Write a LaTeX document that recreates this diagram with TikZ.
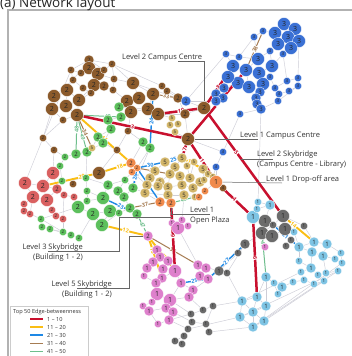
\documentclass[tikz,border=0pt]{standalone}
\usepackage{fontspec}
\setmainfont{Open Sans}
\pgfdeclarelayer{edges}
\pgfsetlayers{edges,main}
\definecolor{cbrown}{RGB}{139,90,43}
\definecolor{cblue}{RGB}{58,112,212}
\definecolor{cgreen}{RGB}{92,192,92}
\definecolor{cred}{RGB}{217,96,96}
\definecolor{corange}{RGB}{240,138,76}
\definecolor{cgold}{RGB}{211,182,106}
\definecolor{cpink}{RGB}{222,128,204}
\definecolor{cgray}{RGB}{107,107,107}
\definecolor{clblue}{RGB}{126,196,228}
\definecolor{ered}{RGB}{200,16,46}
\definecolor{eyel}{RGB}{250,190,20}
\definecolor{eblu}{RGB}{30,136,229}
\definecolor{ebrn}{RGB}{166,124,82}
\definecolor{egrn}{RGB}{110,190,140}
\definecolor{cgline}{RGB}{205,205,215}

\begin{document}
\begin{tikzpicture}[x=1pt, y=-1pt,
        nd/.style={circle, inner sep=0pt, draw=white, line width=0.3pt, text=black!85},
        nda/.style={nd, minimum size=13pt, font=\fontsize{7}{7}\selectfont},
        ndb/.style={nd, minimum size=10pt, font=\fontsize{6}{6}\selectfont},
        ndc/.style={nd, minimum size=7.5pt, font=\fontsize{4.5}{4.5}\selectfont},
        gline/.style={draw=cgline, line width=0.45pt},
        tred/.style={draw=ered, line width=2.5pt},
        tyel/.style={draw=eyel, line width=1.9pt},
        tblu/.style={draw=eblu, line width=1.4pt},
        tbrn/.style={draw=ebrn, line width=1pt},
        tgrn/.style={draw=egrn, line width=1pt},
        elab/.style={sloped, fill=white, inner sep=0.4pt, font=\fontsize{5.5}{5.5}\selectfont\bfseries},
        lred/.style={elab, text=ered},
        lyel/.style={elab, text=eyel},
        lblu/.style={elab, text=eblu},
        lbrn/.style={elab, text=ebrn},
        lgrn/.style={elab, text=egrn},
        lbl/.style={font=\fontsize{7.5}{10}\selectfont, text=black!80, inner sep=0pt},
        leader/.style={draw=black!60, line width=0.5pt},
    ]
    \useasboundingbox (0,0) rectangle (352,356);

    %Nodes
    \foreach \n/\x/\y/\s in {b1/54/96/a, b2/67/90/a, b3/79/100/a, b4/66/106/a, b5/52/109/a, b6/77/115/a,
        b7/89/60/b, b8/89/68/a, b9/98/74/a, b10/94/85/a, b11/104/86/b, b12/133/83/a, b13/127/101/a,
        b14/139/98/a, b15/131/112/a, b16/148/109/a, b17/153/94/a, b18/158/114/a, b19/99/173/a,
        b20/204/108/a, b21/188/139/a, b22/117/150/c, b23/178/98/b, b24/185/114/b, b25/71/70/c,
        b26/81/73/c, b27/104/70/c, b28/112/64/c, b29/73/80/c, b30/114/79/c, b31/83/88/c, b32/91/93/c,
        b33/113/90/c, b34/162/86/c, b35/167/91/c, b36/63/120/c, b37/43/138/c, b38/54/150/c,
        b39/128/131/c, b40/73/184/c}
        \node[nd\s, fill=cbrown] (\n) at (\x,\y) {2};
    \node[ndc, fill=cbrown] (b41) at (223,188) {3};

    \foreach \n/\x/\y/\s in {c1/284/24/a, c2/295/29/a, c3/275/33/a, c4/288/37/a, c5/299/41/a, c6/278/44/a,
        c7/291/48/a, c8/258/59/a, c9/233/66/a, c10/246/70/a, c11/259/73/a, c12/272/66/a, c13/238/83/a,
        c14/249/87/a, c15/263/84/a, c16/228/77/a, c17/254/37/c, c18/263/31/c, c19/270/51/c, c20/283/54/c,
        c21/226/54/c, c22/239/57/c, c23/270/77/c, c24/275/88/c, c25/287/81/c, c26/298/78/c, c27/298/86/c,
        c28/289/91/c, c29/279/94/c, c30/260/92/b, c31/256/98/b, c32/278/101/c, c33/257/104/b,
        c34/261/109/b, c35/224/88/b, c36/216/94/b, c37/223/98/b, c38/216/101/b, c40/240/114/c,
        c41/223/152/c, c42/216/167/c}
        \node[nd\s, fill=cblue] (\n) at (\x,\y) {3};
    \node[ndb, fill=cblue] (c39) at (186,101) {2};

    \foreach \n/\x/\y/\s in {g1/98/137/b, g2/103/143/b, g3/143/142/b, g4/150/148/b, g5/60/166/c,
        g6/76/154/b, g7/87/152/b, g8/65/157/c, g9/86/178/c, g10/62/181/c, g11/87/191/c, g12/103/198/a,
        g13/108/185/b, g14/118/191/b, g15/124/197/b, g17/133/188/b, g18/125/180/c, g19/78/207/a,
        g20/87/201/c, g21/93/214/a, g22/102/225/a, g23/110/211/a, g24/119/213/c, g25/130/208/b,
        g26/137/214/b, g27/41/219/c, g28/42/227/c, g29/50/229/c, g30/63/232/c, g31/71/235/c,
        g32/79/238/c, g33/119/107/b, g34/121/117/b, g35/108/120/b, g36/111/129/b}
        \node[nd\s, fill=cgreen] (\n) at (\x,\y) {2};

    \foreach \n/\x/\y/\s in {r1/25/183/a, r2/43/186/a, r3/53/173/a, r4/57/189/b, r5/64/195/c,
        r6/33/197/a, r7/47/200/a, r8/74/197/c, r9/24/204/c, r10/24/211/c, r11/30/214/c, r12/52/210/c,
        r13/56/216/c, r14/63/219/c}
        \node[nd\s, fill=cred] (\n) at (\x,\y) {2};

    \foreach \n/\x/\y/\s in {d1/172/118/c, d2/170/125/c, d3/178/124/c, d4/175/132/c, d5/165/162/b,
        d6/182/158/b, d7/175/167/b, d8/187/166/c, d9/194/162/c, d10/203/169/b, d11/208/174/c,
        d12/213/177/c, d13/155/171/b, d14/150/178/b, d15/160/182/b, d16/170/174/b, d17/180/176/b,
        d18/190/178/b, d19/200/182/b, d20/147/185/b, d21/158/186/b, d22/168/187/b, d23/182/185/b,
        d24/193/188/b, d25/145/193/b, d26/168/195/b, d27/184/195/b, d28/195/197/c, d29/204/180/c,
        d30/92/148/c}
        \node[nd\s, fill=cgold] (\n) at (\x,\y) {5};

    \foreach \n/\x/\y/\s in {o1/131/163/b, o2/137/168/c, o3/132/172/c, o4/160/202/b, o5/171/203/b,
        o7/205/191/c, o8/199/197/c}
        \node[nd\s, fill=corange] (\n) at (\x,\y) {2};
    \node[nda, fill=corange] (o6) at (216,182) {1};

    \foreach \n/\x/\y/\s in {p2/172/223/c, p3/178/228/a, p4/182/220/c, p5/188/226/c, p6/157/250/b,
        p7/160/257/b, p8/153/262/b, p9/168/261/b, p10/147/268/b, p11/163/269/b, p12/175/271/a,
        p13/162/278/b, p14/198/265/b, p15/206/268/b, p16/200/276/b, p17/208/279/b, p18/144/276/c,
        p19/156/283/b, p20/157/294/a, p21/170/300/a, p22/143/306/c, p23/152/302/c, p24/149/311/b,
        p25/166/308/b, p26/173/312/b, p27/169/320/b, p28/158/324/c, p29/181/283/b, p30/193/290/b,
        p31/189/297/b, p32/265/247/c}
        \node[nd\s, fill=cpink] (\n) at (\x,\y) {1};
    \node[ndb, fill=cpink] (p1) at (148,236) {2};

    \foreach \n/\x/\y/\s in {k1/265/221/a, k2/283/216/a, k3/285/229/a, k4/262/233/a, k5/272/236/a,
        k6/273/225/c, k7/304/226/c, k8/291/240/c, k9/245/244/b, k10/238/253/c, k11/286/246/c,
        k12/219/271/b, k13/227/273/c, k14/213/306/c, k15/203/310/c, k16/191/314/c, k17/192/322/c,
        k18/188/329/c, k19/206/324/c, k20/209/332/c, k21/184/336/c, k22/182/344/c, k23/175/341/c}
        \node[nd\s, fill=cgray] (\n) at (\x,\y) {1};

    \foreach \n/\x/\y/\s in {l1/253/217/a, l2/258/202/c, l3/270/205/b, l4/257/209/c, l5/294/232/c,
        l6/314/242/b, l7/327/244/b, l8/299/247/b, l9/312/252/b, l10/323/256/b, l11/341/253/c,
        l12/335/259/c, l13/342/263/c, l14/299/261/c, l15/311/268/b, l16/301/272/c, l17/326/273/c,
        l18/338/271/c, l19/318/275/c, l20/324/281/c, l21/314/284/c, l22/304/280/c, l23/293/282/c,
        l24/282/287/b, l25/274/283/c, l26/278/294/c, l27/266/277/b, l28/257/297/b, l29/242/301/b,
        l30/253/312/b, l31/266/306/b, l32/240/317/b, l33/264/321/b, l34/253/327/b}
        \node[nd\s, fill=clblue] (\n) at (\x,\y) {1};

    \node[anchor=base west, inner sep=0pt, font=\fontsize{13.5}{14}\selectfont, text=black!85] (ttl) at (0,7) {(a) Network layout};

    %Lines
    \begin{pgfonlayer}{edges}
        \fill[white] (0,0) rectangle (352,356);
        \draw[draw=black!30, line width=1.2pt] (8,10) rectangle (400,400);

        \foreach \a/\b in {b7/b8, b8/b9, b9/b10, b10/b11, b7/b25, b25/b26, b26/b8, b7/b27, b27/b28,
            b28/b30, b30/b12, b27/b9, b29/b25, b29/b2, b2/b1, b1/b5, b5/b4, b4/b2, b4/b3, b3/b6, b6/b4,
            b3/b32, b32/b31, b31/b29, b31/b10, b32/b11, b11/b33, b33/b30, b33/b13, b12/b17, b12/b14,
            b13/b14, b13/b15, b15/b16, b16/b18, b14/b17, b17/b34, b34/b35, b35/b23, b23/b24, b24/b20,
            b18/b24, b36/b5, b36/b6, b37/b36, b37/b38, b5/b37, b3/b10, b1/b29, b12/b28, b15/b39,
            b39/b22, b22/b19, b28/b7, b16/b17, b2/b3, b20/b23, b9/b30, b25/b37, b12/c39, b34/c39,
            b28/b34, b7/b29,
            c1/c2, c1/c3, c2/c4, c3/c4, c4/c5, c4/c6, c5/c7, c6/c7, c3/c18, c18/c17, c17/c8, c6/c19,
            c19/c8, c7/c20, c20/c12, c19/c12, c8/c10, c8/c11, c9/c10, c10/c11, c11/c12, c12/c23, c11/c15,
            c10/c14, c9/c16, c9/c22, c22/c21, c21/c9, c16/c13, c13/c14, c14/c15, c15/c23, c23/c24,
            c24/c25, c25/c26, c26/c27, c27/c28, c28/c29, c29/c24, c15/c30, c30/c31, c31/c33, c33/c34,
            c32/c29, c32/c34, c13/c35, c35/c36, c36/c37, c37/c38, c16/c35, c34/c40, c40/c41, c41/c42,
            c39/c38, c39/b23, c5/c26, c2/c5, c20/c25, c14/c31, c22/c8, c17/c22, c21/c39, c27/c32,
            g33/g34, g34/g35, g35/g36, g36/g1, g1/g2, g2/g7, g7/g6, g6/g8, g8/g5, g5/g10, g10/g9, g9/g7,
            g9/g11, g11/g12, g12/g13, g13/g14, g14/g15, g15/g17, g17/g18, g18/g13, g18/g14, g12/g20,
            g20/g19, g19/g21, g21/g22, g22/g23, g23/g24, g24/g25, g25/g26, g21/g23, g20/g11, g19/g27,
            g27/g28, g28/g29, g29/g30, g30/g31, g31/g32, g32/g21, g3/g4, g4/g17, g2/b22, g3/b39,
            g15/g25, g22/g24, g36/g2, g33/b16, g27/g30, g28/g31, g9/g13,
            r1/r2, r2/r3, r3/r4, r2/r4, r4/r5, r1/r6, r6/r7, r2/r7, r2/r6, r7/r4, r5/r8, r6/r9, r9/r10,
            r10/r11, r11/r6, r7/r12, r12/r13, r13/r14, r14/r5, r3/g5, r1/b37, r8/g19, r3/b38, b38/g8,
            r10/g27, r14/g30,
            g3/o1, g4/o2, o3/g18, d25/o4, o4/o5, o5/d26, d28/o8, o8/o7, o7/o6, o6/d12, o6/b41, c42/o6,
            c42/d12, d30/g1, d30/g7, d1/d2, d2/d3, d3/d4, d1/d3, d4/b21, b18/d1, b24/b21, d5/d7, d6/d7,
            d6/d8, d8/d9, d9/d10, d10/d11, d11/d12, d5/d13, d13/d14, d14/d15, d15/d16, d16/d17, d17/d18,
            d18/d19, d19/d29, d29/d10, d20/d21, d21/d22, d22/d23, d23/d24, d25/d26, d26/d27, d27/d28,
            d13/d16, d7/d16, d7/d17, d8/d18, d14/d20, d20/d25, d15/d21, d22/d26, d23/d27, d24/d28,
            d17/d23, d16/d22, d9/d18, d19/d24, d25/g17, d20/o3,
            p2/p3, p3/p4, p4/p5, p3/p5, p2/p4, p6/p7, p7/p8, p7/p9, p8/p10, p9/p11, p11/p12, p11/p13,
            p10/p18, p18/p19, p13/p19, p19/p20, p20/p21, p20/p23, p23/p22, p22/p24, p24/p25, p25/p26,
            p26/p27, p27/p28, p28/p24, p21/p26, p21/p29, p29/p30, p30/p31, p31/p21, p14/p15, p15/p16,
            p16/p17, p14/p16, p12/p29, p13/p12, p3/p14, p17/p30, p6/p8, p1/p6, p4/d27, p2/o5,
            p21/k16, p26/k17, p27/k18, p32/k4,
            k1/k6, k6/k2, k2/k3, k3/k6, k1/k4, k4/k5, k5/k3, k4/k6, k5/k6, k2/k7, k3/k8, k8/k11, k4/k9,
            k9/k10, k10/k12, k12/k13, k14/k15, k15/k16, k16/k17, k17/k18, k18/k21, k21/k22, k22/k23,
            k23/k21, k17/k19, k19/k20, k14/k19, p14/k12, p17/k12, k15/p31, k16/p27, k1/l1, k13/k9,
            l1/l4, l4/l2, l2/l3, l3/l4, l6/l7, l6/l8, l8/l9, l9/l10, l7/l10, l6/l9, l10/l12, l11/l12,
            l12/l13, l11/l13, l8/l14, l14/l15, l15/l16, l10/l17, l17/l18, l17/l19, l19/l20, l20/l21,
            l21/l22, l22/l23, l23/l24, l24/l25, l25/l26, l24/l26, l25/l27, l27/l28, l28/l29, l28/l30,
            l28/l31, l29/l30, l30/l31, l29/l32, l30/l32, l30/l33, l31/l33, l32/l34, l33/l34, l30/l34,
            l5/l8, l5/k3, l9/l15, l16/l22, l15/l19, l27/l31, l34/l13, l32/l18, l29/l16, k20/l34,
            k14/l29, l7/l11, k7/l6, l3/k1, b21/c41, k18/l32, l34/l18, l33/l20, k13/l29, c34/l2}
            \draw[gline] (\a) -- (\b);

        % top 50 edges
        \draw[tgrn] (b6) -- node[lgrn, pos=0.75]{42} (g34);
        \draw[tgrn] (b6) -- node[lgrn, pos=0.3]{48} (g6);
        \draw[tgrn] (b6) -- node[lgrn, pos=0.6]{49} (g7);
        \draw[tgrn] (k4) -- node[lgrn, pos=0.15]{41} (l27);
        \draw[tgrn] (o5) -- node[lgrn]{45} (d28);
        \draw[tgrn] (g26) -- node[lgrn]{47} (p1);

        \draw[tbrn] (b17) -- node[lbrn]{33} (b23);
        \draw[tbrn] (b6) -- node[lbrn]{34} (d30);
        \draw[tbrn] (o2) -- node[lbrn]{35} (d16);
        \draw[tbrn] (p1) -- node[lbrn]{36} (p14);
        \draw[tbrn] (g25) -- node[lbrn]{37} (o4);
        \draw[tbrn] (c18) -- node[lbrn]{38} (c10);

        \draw[tblu] (k6) -- node[lblu]{21} (l8);
        \draw[tblu] (o2) -- node[lblu]{22} (o4);
        \draw[tblu] (g12) -- node[lblu]{23} (g26);
        \draw[tblu] (b17) -- node[lblu]{24} (g4);
        \draw[tblu] (d5) -- node[lblu]{25} (d6);
        \draw[tblu] (o2) -- node[lblu]{26} (g17);
        \draw[tblu] (p17) -- node[lblu]{27} (k9);
        \draw[tblu] (p29) -- node[lblu]{29} (p17);
        \draw[tblu] (o2) -- node[lblu]{30} (d5);

        \draw[tyel] (b6) -- node[lyel]{11} (o1);
        \draw[tyel] (g22) -- node[lyel]{12} (p1);
        \draw[tyel] (p1) -- node[lyel, pos=0.3]{13} (p13);
        \draw[tyel] (k2) -- node[lyel, pos=0.25]{14} (l6);
        \draw[tyel] (d6) -- node[lyel, pos=0.35]{15} (d10);
        \draw[tyel] (p1) -- node[lyel, pos=0.65]{17} (p12);
        \draw[tyel] (b19) -- node[lyel, pos=0.7]{18} (o1);
        \draw[tyel] (r2) -- node[lyel, pos=0.75]{20} (b19);

        \draw[tred] (b21) -- node[lred]{1} (o6);
        \draw[tred] (b21) -- node[lred]{2} (c10);
        \draw[tred] (b6) -- node[lred]{3} (b21);
        \draw[tred] (o6) -- node[lred]{4} (l1);
        \draw[tred] (b20) -- node[lred, pos=0.4]{5} coordinate[pos=0.47] (skyc) (k2);
        \draw[tred] (l1) -- node[lred]{6} (l28);
        \draw[tred] (b21) -- node[lred]{7} (d6);
        \draw[tred] (b20) -- node[lred]{8} (c9);
        \draw[tred] (o5) -- node[lred]{9} coordinate[pos=0.17] (lv3c) (p12);
        \draw[tred] (b18) -- node[lred]{10} (b20);
    \end{pgfonlayer}

    % annotations
    \node[lbl, anchor=base west] (lcc2) at (122,59) {Level 2 Campus Centre};
    \node[lbl, anchor=base west] (lcc1) at (240,137) {Level 1 Campus Centre};
    \node[lbl, anchor=base west, align=left] (lsky2) at (257,166) {Level 2 Skybridge\\(Campus Centre - Library)};
    \node[lbl, anchor=base west] (ldrop) at (266,181) {Level 1 Drop-off area};
    \node[lbl, anchor=base west, align=left] (lplaza) at (190,222) {Level 1\\Open Plaza};
    \node[lbl, anchor=base east, align=right] (lsky3) at (83,259) {Level 3 Skybridge\\(Building 1 - 2)};
    \node[lbl, anchor=base east, align=right] (lsky5) at (112,296) {Level 5 Skybridge\\(Building 1 - 2)};

    \coordinate (cc2e) at (178,61);
    \coordinate (cc1e) at (258,139);
    \coordinate (sky2e) at (273,157);
    \coordinate (drope) at (282,183);
    \coordinate (plazae) at (210,214);
    \coordinate (sky3a) at (119,251);
    \coordinate (sky3b) at (48,251);
    \coordinate (sky5a) at (129,288);
    \coordinate (sky5b) at (77,288);

    \draw[leader] (b20) |- (cc2e);
    \draw[leader] (b21) -- (cc1e);
    \draw[leader] (skyc) -- (skyc -| sky2e);
    \draw[leader] (o6) -- (drope);
    \draw[leader] (o5) |- (plazae);
    \draw[leader] (lv3c) -| (sky3a) -- (sky3b);
    \draw[leader] (p1) -| (sky5a) -- (sky5b);

    % legend
    \node[draw=black!20, fill=white, line width=0.6pt, minimum width=78pt, minimum height=60pt,
        anchor=north west, inner sep=0pt] (legbox) at (10,306) {};
    \node[anchor=base west, inner sep=0pt, font=\fontsize{5.6}{6}\selectfont, text=black!80] (legttl) at (13,313) {Top 50 Edge-betweenness};
    \foreach \ecol/\ewid/\etxt [count=\i] in {ered/2.2/1 -- 10, eyel/1.8/11 -- 20, eblu/1.4/21 -- 30,
        ebrn/1/31 -- 40, egrn/1/41 -- 50}{
        \coordinate (la\i) at (30,{311+8*\i});
        \coordinate (lb\i) at (43,{311+8*\i});
        \draw[draw=\ecol, line width=\ewid pt] (la\i) -- (lb\i);
        \node[anchor=west, inner sep=0pt, font=\fontsize{5.6}{6}\selectfont, text=black!80] (lt\i) at (47,{311+8*\i}) {\etxt};
    }
\end{tikzpicture}
\end{document}
